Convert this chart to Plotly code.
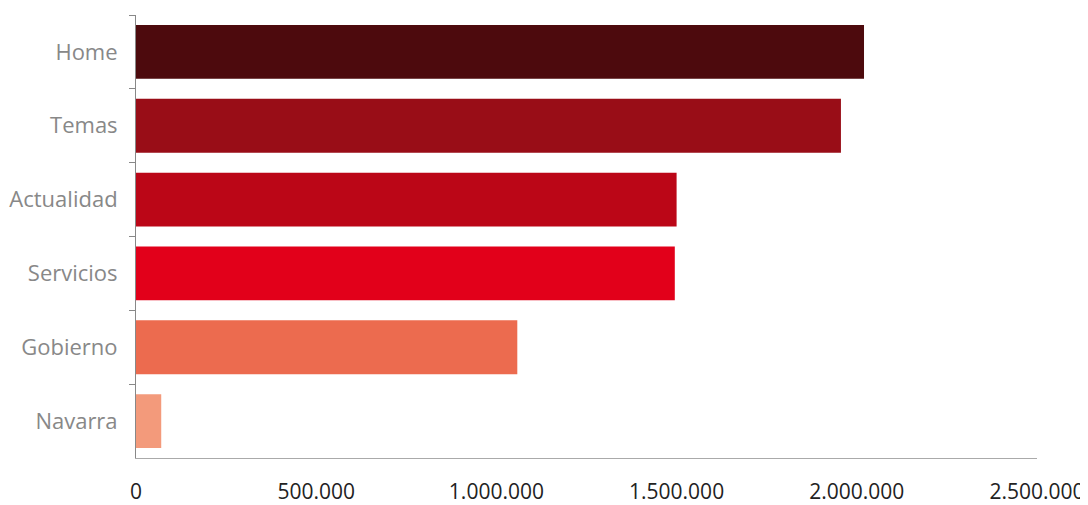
import plotly.graph_objects as go

categories = ["Home", "Temas", "Actualidad", "Servicios", "Gobierno", "Navarra"]
values = [2020000, 1956000, 1500000, 1495000, 1058000, 70000]
colors = ["#4d0a0d", "#990d17", "#bb0617", "#e2001a", "#ec6b4f", "#f39a7b"]
x_ticks = [0, 500000, 1000000, 1500000, 2000000, 2500000]

fig = go.Figure(go.Bar(
    y=categories, x=values, orientation="h",
    marker=dict(color=colors, line=dict(width=0)),
    hoverinfo="x+y",
))

# page body has an 8px margin, so the figure is sized/offset accordingly
fig.update_layout(
    width=1080, height=497,
    margin=dict(l=128, r=51, t=7, b=47),
    paper_bgcolor="white", plot_bgcolor="white",
    separators=",.",
    bargap=0.27,
    showlegend=False,
    font=dict(family="Open Sans", size=22),
)
fig.update_xaxes(
    range=[0, 2500000], tickvals=x_ticks, tickformat=",d",
    showgrid=False, zeroline=False, automargin=False,
    showline=True, linecolor="#aaaaaa", linewidth=1,
    ticks="", ticklabelstandoff=15,
    tickfont=dict(color="#222222", size=21, family="Open Sans"),
)
fig.update_yaxes(
    autorange="reversed", categoryorder="array", categoryarray=categories,
    showgrid=False, zeroline=False, automargin=False,
    showline=True, linecolor="#888888", linewidth=1,
    ticks="outside", tickson="boundaries", ticklen=6, tickcolor="#888888",
    ticklabelstandoff=13,
    tickfont=dict(color="#888888", size=22, family="Open Sans"),
)

fig.write_html("out.html")
